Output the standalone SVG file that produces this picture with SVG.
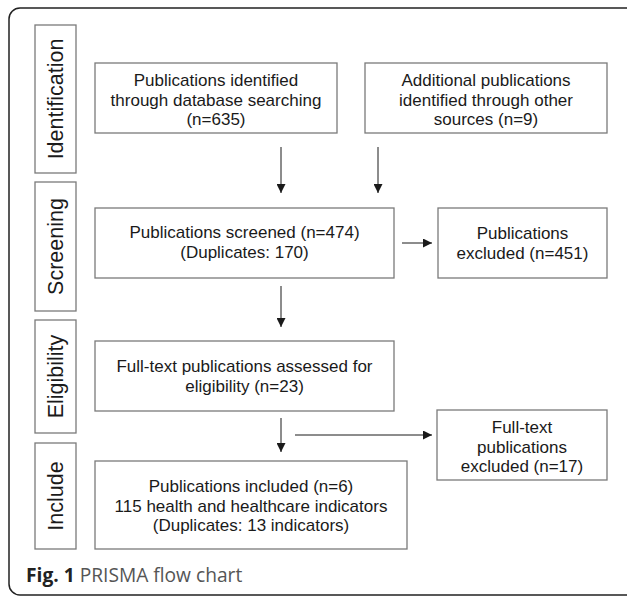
<svg xmlns="http://www.w3.org/2000/svg" width="627" height="597" viewBox="0 0 627 597">
<style>
.box{fill:#fff;stroke:#7a7a7a;stroke-width:1.3}
.t{font-family:"Liberation Sans",Arial,sans-serif;font-size:17px;fill:#1a1a1a;text-anchor:middle}
.ph{font-family:"Liberation Sans",Arial,sans-serif;font-size:21.5px;fill:#1a1a1a;text-anchor:middle}
.c{stroke:#1a1a1a;stroke-width:1;fill:none}
</style>
<defs>
<marker id="ah" viewBox="0 0 10 10" refX="10" refY="5" markerWidth="9" markerHeight="9" markerUnits="userSpaceOnUse" orient="auto">
<path d="M0,0 L10,5 L0,10 z" fill="#1a1a1a"/>
</marker>
</defs>
<rect x="9" y="8" width="630" height="587" rx="11" fill="#fff" stroke="#222" stroke-width="1.5"/>
<g id="phase-identification"><rect class="box" x="35" y="25" width="41" height="148"/><text class="ph" transform="translate(63,99) rotate(-90)">Identification</text></g>
<g id="phase-screening"><rect class="box" x="35" y="182" width="41" height="129"/><text class="ph" transform="translate(63,246.5) rotate(-90)">Screening</text></g>
<g id="phase-eligibility"><rect class="box" x="35" y="320" width="41" height="113"/><text class="ph" transform="translate(63,376.5) rotate(-90)">Eligibility</text></g>
<g id="phase-include"><rect class="box" x="35" y="443" width="41" height="106"/><text class="ph" transform="translate(63,496) rotate(-90)">Include</text></g>
<g id="n-database"><rect class="box" x="95" y="63" width="242" height="70"/><text class="t" x="216" y="86">Publications identified</text><text class="t" x="216" y="105.5">through database searching</text><text class="t" x="216" y="125">(n=635)</text></g>
<g id="n-other"><rect class="box" x="365" y="63" width="242" height="70"/><text class="t" x="486" y="86">Additional publications</text><text class="t" x="486" y="105.5">identified through other</text><text class="t" x="486" y="125">sources (n=9)</text></g>
<g id="n-screened"><rect class="box" x="95" y="208" width="299" height="70"/><text class="t" x="244.5" y="238">Publications screened (n=474)</text><text class="t" x="244.5" y="257.5">(Duplicates: 170)</text></g>
<g id="n-excluded"><rect class="box" x="438" y="208" width="169" height="70"/><text class="t" x="522.5" y="239">Publications</text><text class="t" x="522.5" y="258.5">excluded (n=451)</text></g>
<g id="n-fulltext"><rect class="box" x="95" y="341" width="299" height="70"/><text class="t" x="244.5" y="372">Full-text publications assessed for</text><text class="t" x="244.5" y="391.5">eligibility (n=23)</text></g>
<g id="n-ft-excluded"><rect class="box" x="437" y="410" width="170" height="70"/><text class="t" x="522" y="433">Full-text</text><text class="t" x="522" y="452.5">publications</text><text class="t" x="522" y="472">excluded (n=17)</text></g>
<g id="n-included"><rect class="box" x="95" y="461" width="312" height="88"/><text class="t" x="251" y="492">Publications included (n=6)</text><text class="t" x="251" y="511.5">115 health and healthcare indicators</text><text class="t" x="251" y="531">(Duplicates: 13 indicators)</text></g>
<g id="connectors">
<line class="c" x1="281" y1="147" x2="281" y2="193" marker-end="url(#ah)"/>
<line class="c" x1="378" y1="147" x2="378" y2="193" marker-end="url(#ah)"/>
<line class="c" x1="402" y1="243" x2="432" y2="243" marker-end="url(#ah)"/>
<line class="c" x1="281" y1="286" x2="281" y2="327" marker-end="url(#ah)"/>
<line class="c" x1="281" y1="418" x2="281" y2="452" marker-end="url(#ah)"/>
<line class="c" x1="295" y1="435" x2="432" y2="435" marker-end="url(#ah)"/>
</g>
<text x="26" y="582" font-family="'Open Sans',sans-serif" font-size="19.2"><tspan font-weight="bold" fill="#222">Fig. 1</tspan><tspan fill="#555"> PRISMA flow chart</tspan></text>
</svg>
